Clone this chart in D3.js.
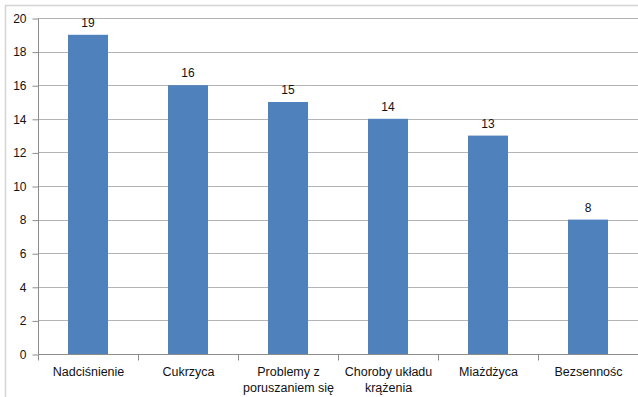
<!DOCTYPE html>
<html><head><meta charset="utf-8">
<script src="https://cdn.jsdelivr.net/npm/d3@7"></script>
<style>body{margin:0;background:#fff}svg{display:block}</style>
</head><body><div id="c"></div>
<script>
const categories = ["Nadciśnienie", "Cukrzyca", "Problemy z|poruszaniem się", "Choroby układu|krążenia", "Miażdżyca", "Bezsennośc"];
const values = [19, 16, 15, 14, 13, 8];
const yTicks = [0, 2, 4, 6, 8, 10, 12, 14, 16, 18, 20];

const W = 638, H = 397;
const m = {left: 38, top: 18, right: 0, bottom: 43};
const FONT = "'Liberation Sans', Arial, sans-serif";
const svg = d3.select("#c").append("svg").attr("width", W).attr("height", H)
  .style("font-family", FONT);

svg.append("rect").attr("x", 5.5).attr("y", 5.5).attr("width", W).attr("height", H)
  .attr("fill", "none").attr("stroke", "#d4d4d4").attr("stroke-width", 1.5);

const x = d3.scaleBand().domain(categories).range([m.left, m.left + 600]).paddingInner(0.6).paddingOuter(0.3);
const xb = d3.scaleBand().domain(categories).range([m.left, m.left + 600]);
const y = d3.scaleLinear().domain([0, 20]).range([354, 18]);

// gridlines
svg.append("g").selectAll("line").data(yTicks.filter(d => d > 0)).join("line")
  .attr("x1", m.left).attr("x2", W).attr("y1", d => Math.round(y(d)) + 0.5).attr("y2", d => Math.round(y(d)) + 0.5)
  .attr("stroke", "#b3b3b3");

// y axis
const ya = svg.append("g").attr("transform", `translate(${m.left + 0.5},0.5)`)
  .call(d3.axisLeft(y).tickValues(yTicks).tickSize(6).tickPadding(6));
ya.select(".domain").attr("stroke", "#8c8c8c").attr("d", `M0,${y(20)}V${y(0)}`);
ya.selectAll(".tick line").attr("stroke", "#8c8c8c");
ya.selectAll(".tick text").attr("font-size", 12).attr("fill", "#111").attr("font-family", FONT);

// bars
svg.append("g").selectAll("rect").data(values).join("rect")
  .attr("x", (d, i) => x(categories[i])).attr("width", x.bandwidth())
  .attr("y", d => y(d)).attr("height", d => y(0) - y(d))
  .attr("fill", "#4f81bd");

// value labels
svg.append("g").selectAll("text").data(values).join("text")
  .attr("x", (d, i) => x(categories[i]) + x.bandwidth() / 2).attr("y", d => y(d) - 8)
  .attr("text-anchor", "middle").attr("font-size", 12).attr("fill", "#111").text(d => d);

// x axis
const xa = svg.append("g").attr("transform", `translate(0.5,${Math.round(y(0)) + 0.5})`);
xa.append("line").attr("x1", m.left).attr("x2", W).attr("stroke", "#8c8c8c");
xa.selectAll("line.t").data(categories.map((c, i) => i).concat([6])).join("line").attr("class", "t")
  .attr("x1", i => m.left + i * xb.step()).attr("x2", i => m.left + i * xb.step())
  .attr("y1", 0).attr("y2", 6).attr("stroke", "#8c8c8c");
const lab = xa.selectAll("text").data(categories).join("text")
  .attr("text-anchor", "middle").attr("font-size", 12.5).attr("fill", "#111")
  .attr("transform", c => `translate(${xb(c) + xb.bandwidth() / 2},0)`);
lab.selectAll("tspan").data(c => c.split("|")).join("tspan")
  .attr("x", 0).attr("y", (d, i) => 21 + i * 16).text(d => d);
</script></body></html>
